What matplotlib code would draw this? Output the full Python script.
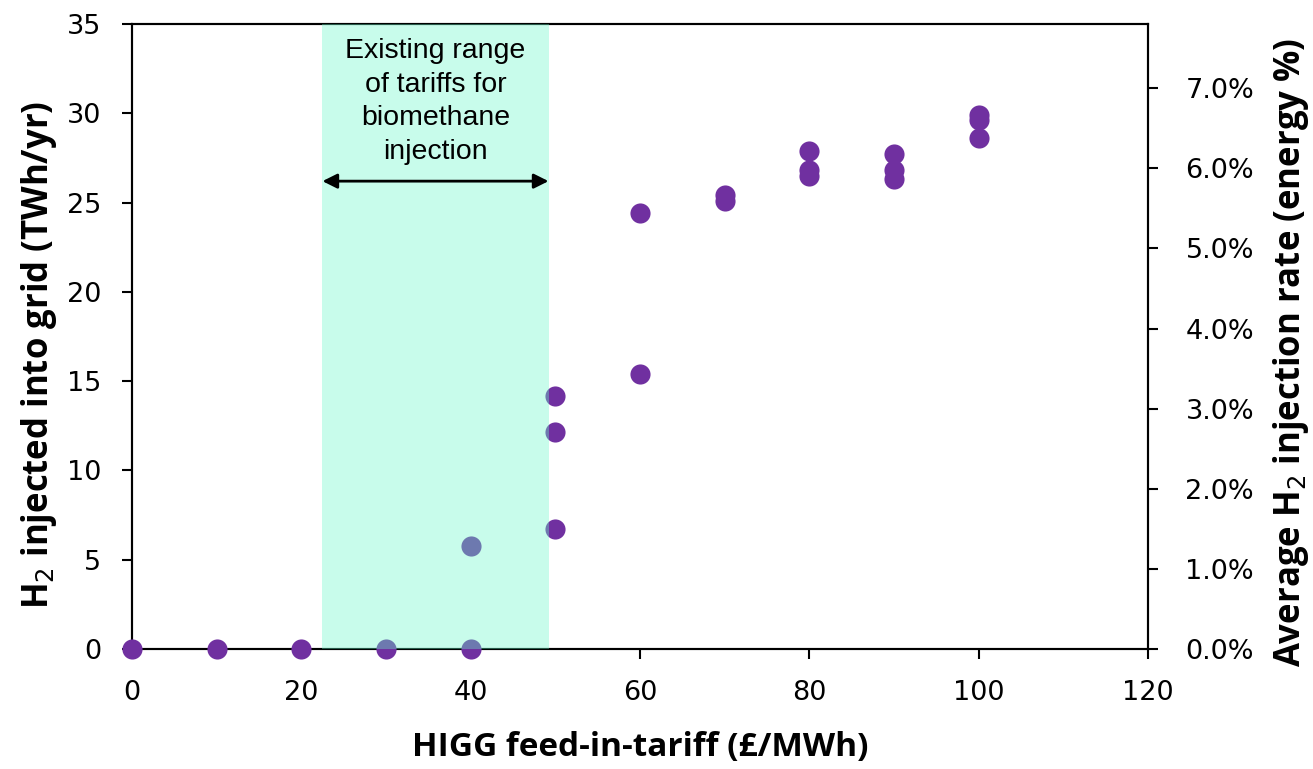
import matplotlib
matplotlib.use("Agg")
import matplotlib.pyplot as plt
from matplotlib.ticker import PercentFormatter

# ---- data -------------------------------------------------------------------
tariff = [0, 10, 20, 30, 40, 40,
          50, 50, 50,
          60, 60,
          70, 70,
          80, 80, 80,
          90, 90, 90,
          100, 100, 100]
h2_twh = [0.0, 0.0, 0.0, 0.0, 0.0, 5.75,
          14.15, 12.15, 6.7,
          24.4, 15.4,
          25.45, 25.1,
          27.9, 26.8, 26.5,
          27.7, 26.8, 26.3,
          29.9, 29.6, 28.6]
range_lo, range_hi = 22.5, 49.2          # existing biomethane tariff band
range_note = "Existing range\nof tariffs for\nbiomethane\ninjection"
right_ticks = [0.0, 0.01, 0.02, 0.03, 0.04, 0.05, 0.06, 0.07]

purple = "#7030A0"
tick_font = ["DejaVu Sans"]
label_font = ["Open Sans", "DejaVu Sans"]

fig = plt.figure(figsize=(13.13, 7.69), dpi=100)
ax = fig.add_axes([0.1005, 0.156, 0.7738, 0.8128])
ax2 = ax.twinx()
# keep the data axes on top so the dots sit over the axis lines
ax.set_zorder(ax2.get_zorder() + 1)
ax.patch.set_visible(False)

ax.scatter(tariff, h2_twh, s=210, color=purple, zorder=3, clip_on=False,
           linewidths=0)
ax.axvspan(range_lo, range_hi, color="#6AF7C9", alpha=0.37, lw=0, zorder=4)

ax.annotate("", xy=(range_lo, 26.2), xytext=(range_hi, 26.2),
            arrowprops=dict(arrowstyle="<|-|>", color="black", lw=2,
                            mutation_scale=22, shrinkA=0, shrinkB=0),
            zorder=5)
ax.text((range_lo + range_hi) / 2, 34.2, range_note, ha="center", va="top",
        fontsize=20.5, family=["Liberation Sans", "DejaVu Sans"],
        linespacing=1.38, zorder=5)

ax.set_xlim(0, 120)
ax.set_ylim(0, 35)
ax.set_xticks(range(0, 121, 20))
ax.set_yticks(range(0, 36, 5))
ax.tick_params(length=7, width=1.5, color="black")
ax.tick_params(axis="x", pad=15)
ax.tick_params(axis="y", pad=15)
for lab in ax.get_xticklabels() + ax.get_yticklabels():
    lab.set_family(tick_font)
    lab.set_fontsize(19.5)
for sp in ax.spines.values():
    sp.set_linewidth(1.5)

ax.set_xlabel("HIGG feed-in-tariff (£/MWh)", fontsize=24, fontweight="bold",
              family=label_font, labelpad=18)
ax.set_ylabel("H$_2$ injected into grid (TWh/yr)", fontsize=25,
              fontweight="bold", family=label_font, labelpad=6)
ax.yaxis.label.set_y(0.47)

ax2.set_ylim(0, 0.078)
ax2.set_yticks(right_ticks)
ax2.yaxis.set_major_formatter(PercentFormatter(1.0, decimals=1))
ax2.tick_params(length=7, width=1.5, pad=20)
for lab in ax2.get_yticklabels():
    lab.set_family(tick_font)
    lab.set_fontsize(19.5)
for sp in ax2.spines.values():
    sp.set_linewidth(1.5)
ax2.set_ylabel("Average H$_2$ injection rate (energy %)", fontsize=25,
               fontweight="bold", family=label_font, labelpad=12)
ax2.yaxis.label.set_y(0.475)

fig.savefig("out.png", dpi=100)
